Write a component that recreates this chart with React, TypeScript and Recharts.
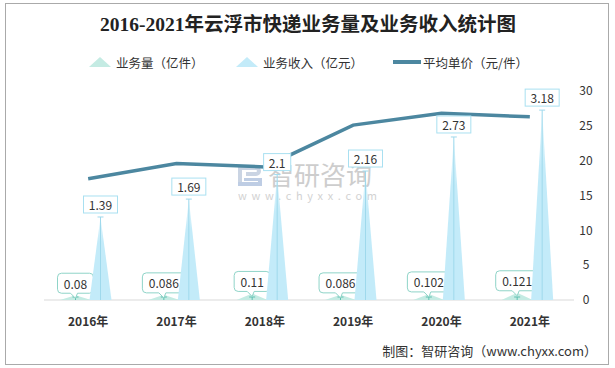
import { ComposedChart, Bar, Line, XAxis, YAxis } from 'recharts'

const years = ['2016年', '2017年', '2018年', '2019年', '2020年', '2021年']
// 业务量（亿件）
const volume = [0.08, 0.086, 0.11, 0.086, 0.102, 0.121]
// 业务收入（亿元）
const revenue = [1.39, 1.69, 2.1, 2.16, 2.73, 3.18]
// 平均单价（元/件）
const unitPrice = [17.4, 19.6, 19.1, 25.1, 26.8, 26.3]
const priceTicks = [0, 5, 10, 15, 20, 25, 30]

const data = years.map((year, i) => ({
  year,
  volume: volume[i],
  revenue: revenue[i],
  price: unitPrice[i],
}))

const FONT = "'Noto Sans CJK SC', 'Noto Sans', sans-serif"
const MARGIN = { top: 91, right: 1, bottom: 38, left: 44 }

// rough text width for small number labels (12px Noto Sans)
const textW = (s: string) => s.split('').reduce((w, c) => w + (c === '.' ? 3.3 : 6.9), 0)

function RevenueShape(props: any) {
  const { x, y, width, height, payload, index } = props
  const cx = x + width / 2
  const base = y + height
  const label = String(payload.revenue)
  const w = textW(label) + 10
  const id = `rev-grad-${index}`
  return (
    <g>
      <defs>
        <linearGradient id={id} x1="0" y1="0" x2="0" y2="1">
          <stop offset="0%" stopColor="#c3ebf9" stopOpacity={0.35} />
          <stop offset="30%" stopColor="#c3ebf9" stopOpacity={1} />
          <stop offset="100%" stopColor="#c3ebf9" stopOpacity={1} />
        </linearGradient>
      </defs>
      <polygon points={`${x + 1.5},${base} ${cx},${y} ${x + width - 1.5},${base}`} fill={`url(#${id})`} />
      <line x1={cx} y1={y} x2={cx} y2={base} stroke="#9fd9ec" strokeWidth={1} />
      <line x1={cx - 3} y1={y} x2={cx + 3} y2={y} stroke="#9fd9ec" strokeWidth={1} />
      <rect x={cx - w / 2} y={y - 21} width={w} height={17} fill="#fff" stroke="#a9e0f1" strokeWidth={1} />
      <text x={cx} y={y - 12.5} textAnchor="middle" dominantBaseline="central" fontSize={12} fill="#333" fontFamily={FONT}>
        {label}
      </text>
    </g>
  )
}

function VolumeShape(props: any) {
  const { x, y, width, height, payload } = props
  const cx = x + width / 2
  const base = y + height
  const label = String(payload.volume)
  const w = textW(label) + 12
  const L = cx - w / 2
  const R = cx + w / 2
  const B = y - 2
  const T = B - 20
  const r = 4
  const box = `M${L + r},${T} H${R - r} Q${R},${T} ${R},${T + r} V${B - r} Q${R},${B} ${R - r},${B} H${cx + 2} L${cx},${B + 5} L${cx - 5},${B} H${L + r} Q${L},${B} ${L},${B - r} V${T + r} Q${L},${T} ${L + r},${T} Z`
  return (
    <g>
      <polygon points={`${x - 3},${base} ${cx},${y} ${x + width + 3},${base}`} fill="#c4ebe3" />
      <line x1={cx} y1={base - 3} x2={cx} y2={base} stroke="#5fc0b0" strokeWidth={1} />
      <line x1={cx - 3} y1={base - 3} x2={cx + 3} y2={base - 3} stroke="#5fc0b0" strokeWidth={1} />
      <path d={box} fill="#fff" stroke="#8fd4c8" strokeWidth={1} />
      <text x={cx} y={T + 10} textAnchor="middle" dominantBaseline="central" fontSize={12} fill="#333" fontFamily={FONT}>
        {label}
      </text>
    </g>
  )
}

function Backdrop() {
  return (
    <svg width={615} height={368} style={{ position: 'absolute', left: 0, top: 0 }}>
      <rect x={5.5} y={3.5} width={603} height={361} fill="#fff" stroke="#aaa" strokeWidth={1} />
      <text
        x={308}
        y={31}
        textAnchor="middle"
        fontSize={19.5}
        fontWeight="bold"
        fill="#222"
        fontFamily="'Liberation Serif', 'Noto Sans CJK SC', serif"
      >
        2016-2021年云浮市快递业务量及业务收入统计图
      </text>

      {/* legend */}
      <polygon points="89,67 100,57 111,67" fill="#c4ebe3" />
      <text x={116} y={62} dominantBaseline="central" fontSize={12.5} fill="#333" fontFamily={FONT}>
        业务量（亿件）
      </text>
      <polygon points="236,67 247,57 258,67" fill="#c3ebf9" />
      <text x={263} y={62} dominantBaseline="central" fontSize={12.5} fill="#333" fontFamily={FONT}>
        业务收入（亿元）
      </text>
      <rect x={393} y={60} width={28} height={4} fill="#4c87a0" />
      <text x={423} y={62} dominantBaseline="central" fontSize={12.5} fill="#333" fontFamily={FONT}>
        平均单价（元/件）
      </text>

      {/* watermark */}
      <g opacity={0.75}>
        <path d="M238,166 h18 a5,5 0 0 1 0,10 h-10 v-4 h10 a1,1 0 0 0 0,-2 h-14 v16 h-4 z" fill="#b9c6da" />
        <path d="M244,178 h18 v8 h-24 v-4 h20 v-1 h-14 z" fill="#a9bddb" />
        <text x={268} y={185} fontSize={26} fill="#bdbdbd" fontFamily={FONT}>
          智研咨询
        </text>
        <text x={238} y={200} fontSize={11} fill="#c4c4c4" fontFamily={FONT} textLength={139} lengthAdjust="spacing">
          www.chyxx.com
        </text>
      </g>

      <text x={597} y={350} textAnchor="end" dominantBaseline="central" fontSize={13} fill="#333" fontFamily={FONT}>
        制图：智研咨询（www.chyxx.com）
      </text>
    </svg>
  )
}

// price line + axes, drawn underneath the bars so the bar labels sit on top of it
function PriceLayer() {
  return (
    <ComposedChart width={615} height={368} data={data} margin={MARGIN} barGap={0} barSize={25}>
      <XAxis
        dataKey="year"
        height={30}
        axisLine={{ stroke: '#d9d9d9' }}
        tickLine={false}
        tickSize={0}
        tickMargin={17}
        tick={{ fontSize: 12, fontWeight: 'bold', fill: '#333', fontFamily: FONT }}
      />
      <YAxis yAxisId="left" hide domain={[0, 3.5]} />
      <YAxis
        yAxisId="right"
        orientation="right"
        width={40}
        domain={[0, 30]}
        ticks={priceTicks}
        axisLine={false}
        tickLine={false}
        tickSize={0}
        tickMargin={12}
        tick={{ fontSize: 12, fill: '#333', fontFamily: FONT, textAnchor: 'middle' }}
      />
      {/* invisible bar keeps the category axis in band mode, same as the bar layer */}
      <Bar yAxisId="left" dataKey="volume" fill="none" shape={() => null} isAnimationActive={false} />
      <Line
        yAxisId="right"
        dataKey="price"
        stroke="#4c87a0"
        strokeWidth={3.5}
        dot={false}
        activeDot={false}
        isAnimationActive={false}
      />
    </ComposedChart>
  )
}

function BarLayer() {
  return (
    <ComposedChart width={615} height={368} data={data} margin={MARGIN} barGap={0} barSize={25}>
      <XAxis dataKey="year" height={30} axisLine={false} tickLine={false} tick={false} />
      <YAxis yAxisId="left" hide domain={[0, 3.5]} />
      <YAxis yAxisId="right" orientation="right" width={40} domain={[0, 30]} axisLine={false} tickLine={false} tick={false} />
      <Bar yAxisId="left" dataKey="volume" shape={VolumeShape} isAnimationActive={false} />
      <Bar yAxisId="left" dataKey="revenue" shape={RevenueShape} isAnimationActive={false} />
    </ComposedChart>
  )
}

export default function App() {
  return (
    <div style={{ position: 'absolute', left: 0, top: 0, width: 615, height: 368, fontFamily: FONT }}>
      <Backdrop />
      <div style={{ position: 'absolute', left: 0, top: 0 }}>
        <PriceLayer />
      </div>
      <div style={{ position: 'absolute', left: 0, top: 0 }}>
        <BarLayer />
      </div>
    </div>
  )
}
